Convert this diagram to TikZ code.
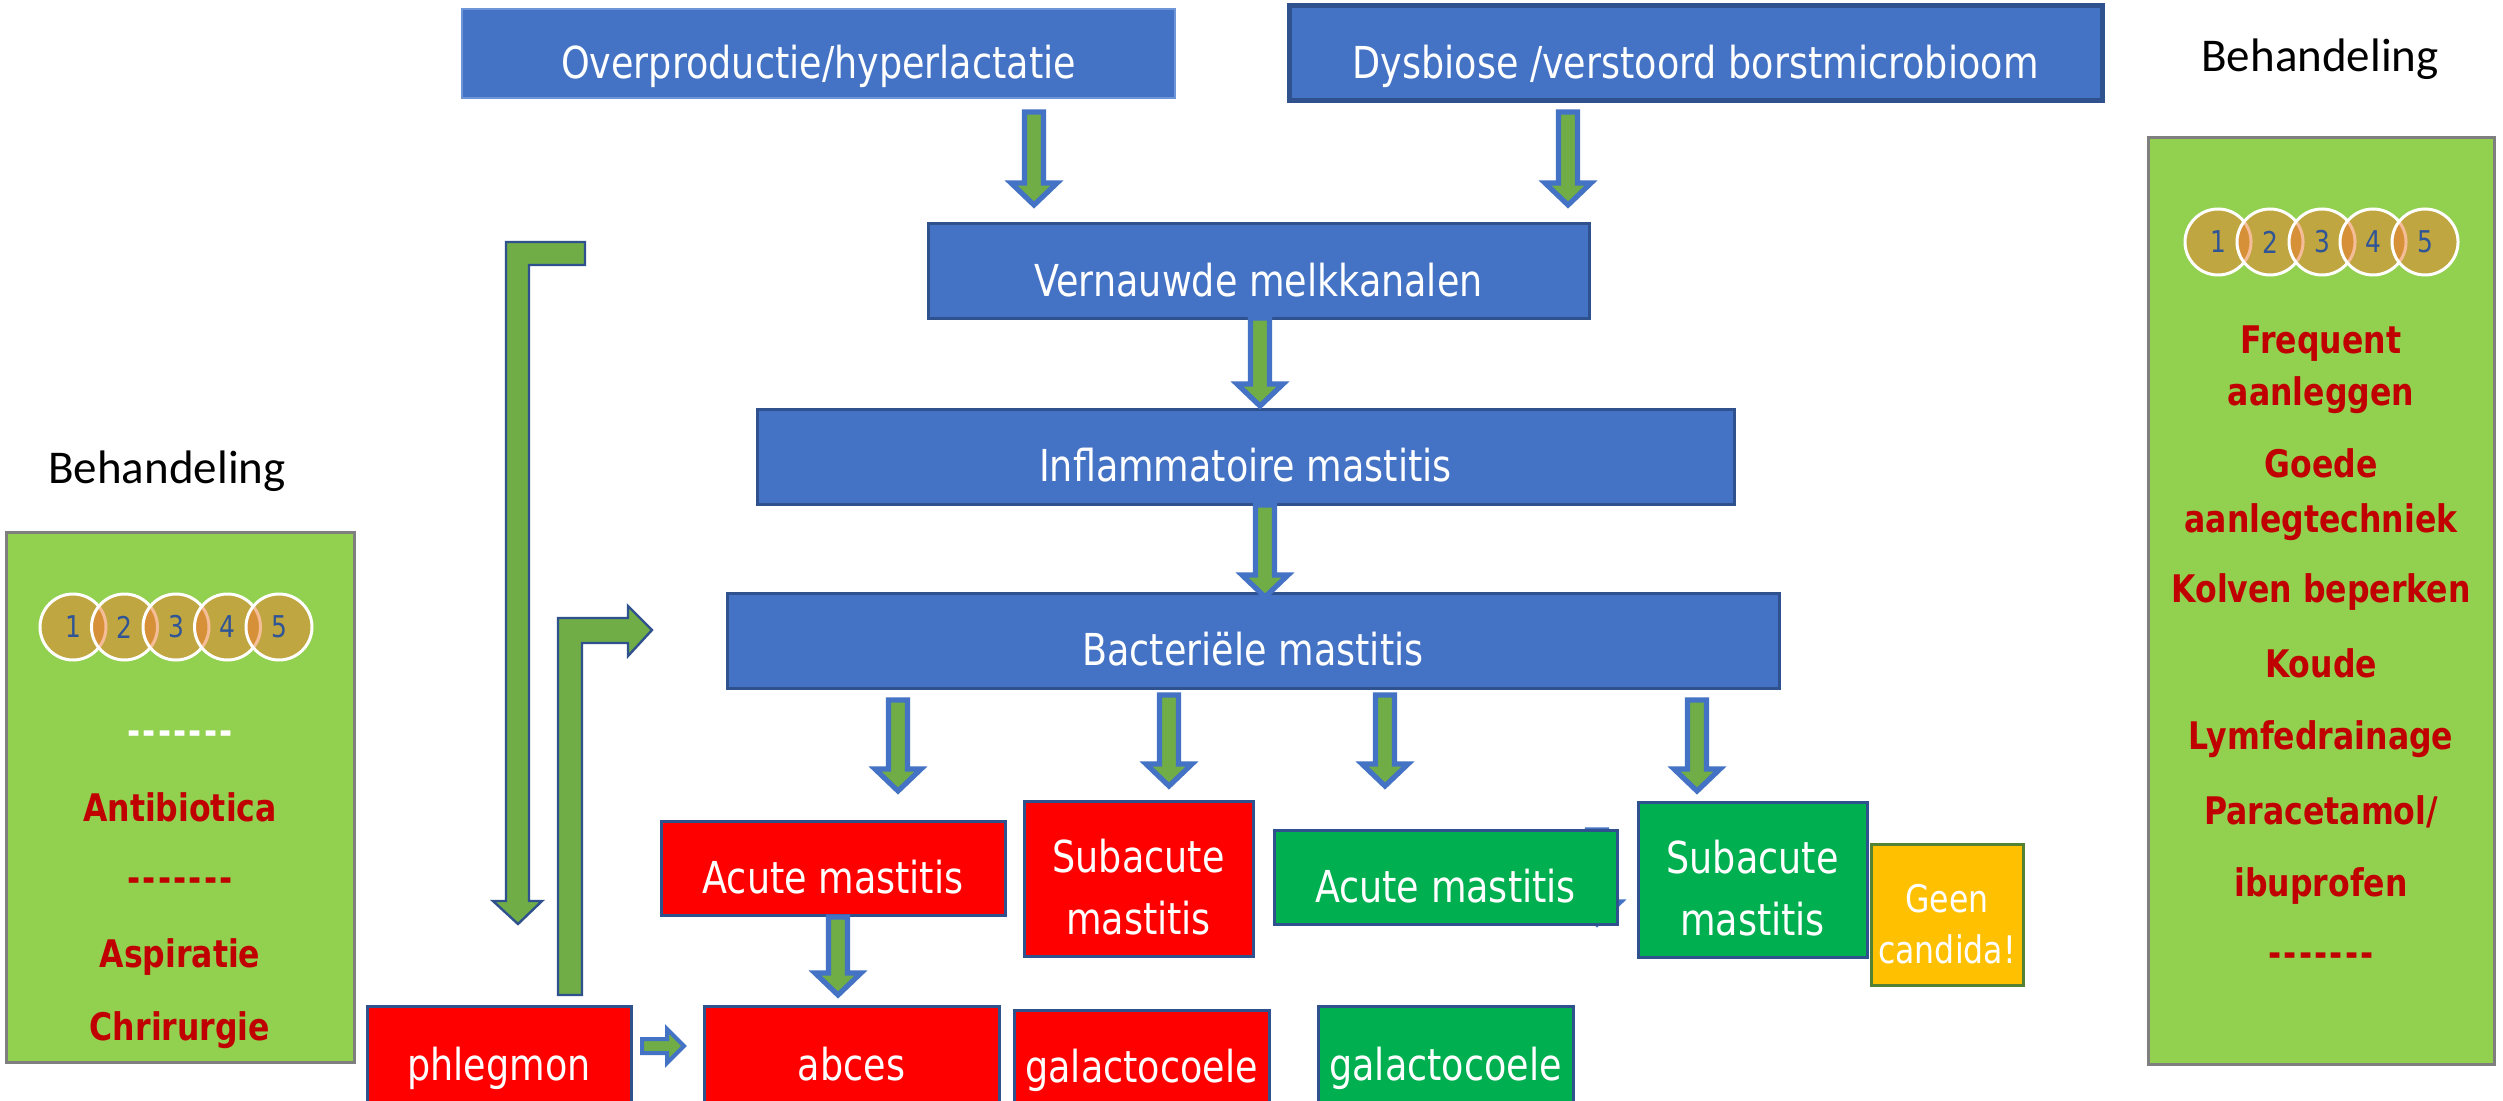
\documentclass[tikz,border=0pt]{standalone}
\usepackage{fontspec}
\usetikzlibrary{calc}
\newfontfamily\boxfont[FakeStretch=0.83]{DejaVu Sans}
\newfontfamily\labelfont{Carlito}

\definecolor{blueFill}{HTML}{4472C4}
\definecolor{blueLine}{HTML}{2F528F}
\definecolor{blueLight}{HTML}{6E95D8}
\definecolor{redFill}{HTML}{FF0000}
\definecolor{greenFill}{HTML}{00B050}
\definecolor{yellowFill}{HTML}{FFC000}
\definecolor{yellowLine}{HTML}{548235}
\definecolor{panelFill}{HTML}{92D050}
\definecolor{panelLine}{HTML}{7F7F7F}
\definecolor{arrowFill}{HTML}{70AD47}
\definecolor{arrowLine}{HTML}{4472C4}
\definecolor{treatRed}{HTML}{C00000}
\definecolor{circFill}{HTML}{ED7D31}
\definecolor{digit}{HTML}{2F5597}

% box given by its corners in pixel units: style, name, x1, y1, x2, y2, text
\newcommand\flowbox[7]{%
  \node[#1, minimum width={(#5-#3)*0.5pt}, minimum height={(#6-#4)*0.5pt}]
    (#2) at ({(#3+#5)/2},{(#4+#6)/2}) {#7};}
% two centred lines with a fixed baseline distance
\newcommand\twoline[3]{\vbox{\baselineskip=#1\halign{\hfil##\hfil\cr#2\cr#3\cr}}}
% spaced row of dashes
\newcommand\dashrow{{\addfontfeature{LetterSpace=6}-------}}
% downward block arrow from a start coordinate to a tip coordinate
\newcommand\blockdown[3][]{%
  \draw[blockarrow,#1] let \p1=(#2), \p2=(#3) in
    (\x1-4.75pt,\y1) -- (\x1+4.75pt,\y1) -- (\x1+4.75pt,\y2+11pt)
    -- (\x1+11.5pt,\y2+11pt) -- (\x2,\y2) -- (\x1-11.5pt,\y2+11pt)
    -- (\x1-4.75pt,\y2+11pt) -- cycle;}
% rightward block arrow
\newcommand\blockright[3][]{%
  \draw[blockarrow,line width=2pt,#1] let \p1=(#2), \p2=(#3) in
    (\x1,\y1+3.5pt) -- (\x2-8.5pt,\y1+3.5pt) -- (\x2-8.5pt,\y1+8.5pt)
    -- (\x2,\y2) -- (\x2-8.5pt,\y1-8.5pt) -- (\x2-8.5pt,\y1-3.5pt)
    -- (\x1,\y1-3.5pt) -- cycle;}

\begin{document}
\begin{tikzpicture}[x=0.5pt,y=-0.5pt,
  box/.style={draw=blueLine, line width=1.5pt, inner sep=0pt, outer sep=0pt,
    text=white, font=\boxfont\fontsize{22}{26}\selectfont,
    text height=25pt, text depth=0pt},
  bluebox/.style={box, fill=blueFill},
  redbox/.style={box, fill=redFill},
  greenbox/.style={box, fill=greenFill},
  yellowbox/.style={box, fill=yellowFill, draw=yellowLine,
    font=\boxfont\fontsize{19}{23}\selectfont},
  panel/.style={draw=panelLine, fill=panelFill, line width=1.5pt, inner sep=0pt},
  blockarrow/.style={fill=arrowFill, draw=arrowLine, line width=2.6pt, line join=miter},
  bentarrow/.style={fill=arrowFill, draw=blueLine, line width=1.2pt, line join=miter},
  heading/.style={anchor=base, inner sep=0pt, text=black,
    font=\labelfont\fontsize{23.5}{28}\selectfont},
  treat/.style={anchor=base, inner sep=0pt, text=treatRed,
    font=\boxfont\bfseries\fontsize{19}{23}\selectfont},
  stage/.style={circle, minimum size=33pt, inner sep=0pt, fill=circFill,
    fill opacity=0.5, text opacity=1, draw=white, line width=1.5pt,
    text=digit, font=\boxfont\fontsize{15}{18}\selectfont}]

\useasboundingbox (0,0) rectangle (2503,1101);
\fill[white] (0,0) rectangle (2503,1101);
\clip (0,0) rectangle (2503,1101);

% ---------- treatment panels ----------
\flowbox{panel}{leftpanel}{6}{532}{354}{1062}{}
\flowbox{panel}{rightpanel}{2148}{138}{2494}{1064}{}

\node[heading] (lefthead) at (167,483) {Behandeling};
\node[heading] (righthead) at (2320,72) {Behandeling};

\foreach \n/\x in {1/73,2/124.5,3/176,4/227.5,5/279}
  \node[stage] (ls\n) at (\x,627) {\n};
\foreach \n/\x in {1/2218,2/2270,3/2322,4/2373,5/2425}
  \node[stage] (rs\n) at (\x,242) {\n};

\node[treat, text=white] (ldash1) at (180,744) {\dashrow};
\node[treat] (lab) at (180,821) {Antibiotica};
\node[treat] (ldash2) at (180,891) {\dashrow};
\node[treat] (lasp) at (180,967) {Aspiratie};
\node[treat] (lchir) at (180,1040) {Chrirurgie};

\node[treat] (rt1) at (2321,353) {Frequent};
\node[treat] (rt2) at (2321,405) {aanleggen};
\node[treat] (rt3) at (2321,477) {Goede};
\node[treat] (rt4) at (2321,532) {aanlegtechniek};
\node[treat] (rt5) at (2321,602) {Kolven beperken};
\node[treat] (rt6) at (2321,677) {Koude};
\node[treat] (rt7) at (2321,749) {Lymfedrainage};
\node[treat] (rt8) at (2321,824) {Paracetamol/};
\node[treat] (rt9) at (2321,896) {ibuprofen};
\node[treat] (rt10) at (2321,966) {\dashrow};

% ---------- arrow hidden behind the green acute box ----------
\coordinate (hs) at (1597,830);
\coordinate (ht) at (1597,924);
\blockdown{hs}{ht}

% ---------- flow boxes ----------
\flowbox{bluebox, draw=blueLight, line width=1pt}{over}{462}{9}{1175}{98}{Overproductie/hyperlactatie}
\flowbox{bluebox, line width=2.5pt}{dys}{1289}{6}{2102}{101}{Dysbiose /verstoord borstmicrobioom}
\flowbox{bluebox}{vern}{928}{224}{1589}{319}{Vernauwde melkkanalen}
\flowbox{bluebox}{infl}{757}{409}{1734}{504}{Inflammatoire mastitis}
\flowbox{bluebox}{bact}{727}{593}{1779}{688}{Bacteriële mastitis}

\flowbox{redbox}{acR}{661}{821}{1005}{915}{Acute mastitis}
\flowbox{redbox, text height=56pt}{subR}{1024}{801}{1253}{956}{\twoline{31pt}{Subacute}{mastitis}}
\flowbox{greenbox}{acG}{1274}{830}{1617}{924}{Acute mastitis}
\flowbox{greenbox, text height=56pt}{subG}{1638}{802}{1867}{957}{\twoline{31pt}{Subacute}{mastitis}}
\flowbox{yellowbox, text height=48.5pt}{geen}{1871}{844}{2023}{985}{\twoline{25.5pt}{Geen}{candida!}}

\flowbox{redbox}{phleg}{367}{1006}{631}{1104}{phlegmon}
\flowbox{redbox}{abces}{704}{1006}{999}{1104}{abces}
\flowbox{redbox}{galR}{1014}{1010}{1269}{1104}{galactocoele}
\flowbox{greenbox}{galG}{1318}{1006}{1573}{1104}{galactocoele}

% ---------- straight block arrows ----------
\coordinate (o2v) at (1034,112);   \coordinate (o2vt) at (1034,205);
\coordinate (d2v) at (1568,112);   \coordinate (d2vt) at (1568,205);
\coordinate (v2i) at (1260,318);   \coordinate (v2it) at (1260,406);
\coordinate (i2b) at (1265,505);   \coordinate (i2bt) at (1265,597);
\coordinate (b2a) at (898,700);    \coordinate (b2at) at (898,791);
\coordinate (b2s) at (1169,695);   \coordinate (b2st) at (1169,786);
\coordinate (b2g) at (1385,695);   \coordinate (b2gt) at (1385,786);
\coordinate (b2sg) at (1697,700);  \coordinate (b2sgt) at (1697,791);
\coordinate (a2ab) at (838,917);   \coordinate (a2abt) at (838,995);
\blockdown{o2v}{o2vt}
\blockdown{d2v}{d2vt}
\blockdown{v2i}{v2it}
\blockdown{i2b}{i2bt}
\blockdown{b2a}{b2at}
\blockdown{b2s}{b2st}
\blockdown{b2g}{b2gt}
\blockdown{b2sg}{b2sgt}
\blockdown{a2ab}{a2abt}

\coordinate (p2a) at (642,1046);   \coordinate (p2at) at (684,1046);
\blockright{p2a}{p2at}

% ---------- bent arrows beside the flow ----------
\draw[bentarrow] (506,242) -- (585,242) -- (585,265) -- (529,265) -- (529,901)
  -- (542,901) -- (518,924) -- (493,901) -- (506,901) -- cycle;
\draw[bentarrow] (558,995) -- (582,995) -- (582,643) -- (628,643) -- (628,656)
  -- (652,630) -- (628,606) -- (628,618) -- (558,618) -- cycle;
\end{tikzpicture}
\end{document}
